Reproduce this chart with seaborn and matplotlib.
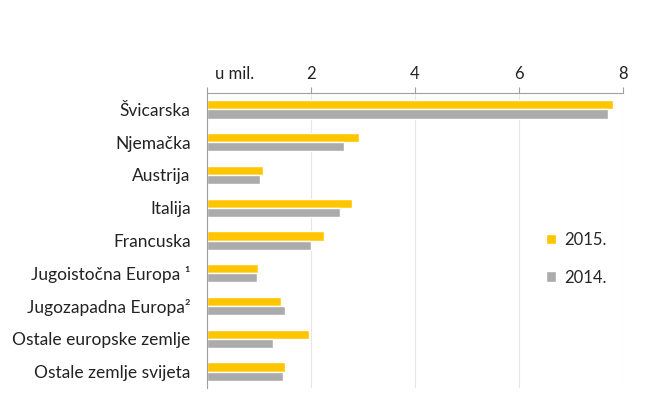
import matplotlib
matplotlib.use('Agg')
import matplotlib.pyplot as plt
from matplotlib.ticker import FixedLocator
import pandas as pd
import seaborn as sns

# data (millions)
countries = ['Švicarska', 'Njemačka', 'Austrija', 'Italija', 'Francuska',
             'Jugoistočna Europa ¹', 'Jugozapadna Europa²',
             'Ostale europske zemlje', 'Ostale zemlje svijeta']
years = ['2015.', '2014.']
values_2015 = [7.81, 2.93, 1.08, 2.79, 2.24, 0.98, 1.42, 1.95, 1.49]
values_2014 = [7.71, 2.63, 1.01, 2.55, 1.99, 0.96, 1.49, 1.27, 1.45]
x_ticks = [0, 2, 4, 6, 8]
x_tick_labels = ['', '2', '4', '6', '8']
unit_label = 'u mil.'
colors = ['#FFC600', '#ABABAB']


def main():
	df = pd.DataFrame({
		'zemlja': countries * 2,
		'godina': [years[0]] * len(countries) + [years[1]] * len(countries),
		'vrijednost': values_2015 + values_2014,
	})

	sns.set_style('white')
	plt.rcParams['font.family'] = ['Lato', 'DejaVu Sans']

	fig = plt.figure(figsize=(6.52, 4.19), dpi=100)
	ax = fig.add_axes([0.318, 0.074, 0.637, 0.704])

	sns.barplot(data=df, y='zemlja', x='vrijednost', hue='godina',
		orient='h', palette=colors, width=0.56, ax=ax, saturation=1)

	ax.set_xlim(0, 8)
	ax.set_ylim(len(countries) - 0.5, -0.5)
	ax.set_xlabel('')
	ax.set_ylabel('')

	# x axis on top, light grid
	ax.xaxis.tick_top()
	ax.set_xticks(x_ticks)
	ax.set_xticklabels(x_tick_labels, fontsize=12, color='#222222')
	ax.tick_params(axis='x', length=4, color='#A0A0A0', pad=4)
	ax.grid(axis='x', color='#E6E6E6', linewidth=0.8)
	ax.set_axisbelow(True)

	# unit label sits where the 0 tick label would be
	ax.annotate(unit_label, xy=(0.15, 1.0), xycoords=('data', 'axes fraction'),
		xytext=(0, 8), textcoords='offset points', ha='left', va='bottom',
		fontsize=12, color='#222222')

	# y ticks between categories, Excel style
	ax.tick_params(axis='y', which='major', length=0, labelsize=12.5, labelcolor='#222222', pad=12)
	ax.yaxis.set_minor_locator(FixedLocator([i - 0.5 for i in range(len(countries) + 1)]))
	ax.tick_params(axis='y', which='minor', length=4, color='#A0A0A0')

	for s in ['right', 'bottom']:
		ax.spines[s].set_visible(False)
	for s in ['top', 'left']:
		ax.spines[s].set_color('#A0A0A0')
		ax.spines[s].set_linewidth(0.8)

	ax.legend(loc='upper left', bbox_to_anchor=(0.78, 0.58), frameon=False,
		fontsize=12, handlelength=0.6, handleheight=0.6, labelspacing=1.3,
		handletextpad=0.5)

	fig.savefig('out.png', dpi=100)


if __name__ == '__main__':
	main()
